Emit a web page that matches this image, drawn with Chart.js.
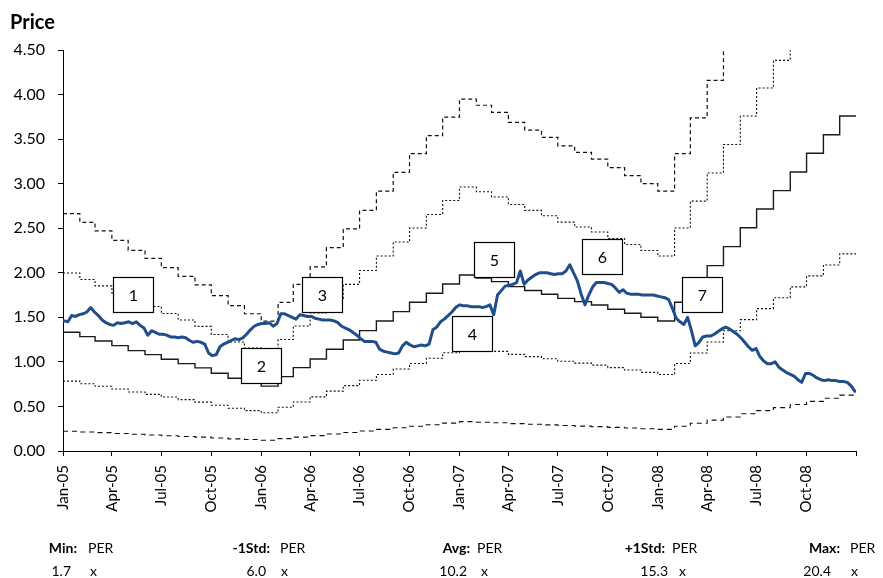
<!DOCTYPE html>
<html>
<head>
<meta charset="utf-8">
<script src="https://cdn.jsdelivr.net/npm/chart.js@4.4.1/dist/chart.umd.min.js"></script>
<style>
  html, body { margin: 0; padding: 0; background: #fff; }
  #wrap { position: relative; width: 883px; height: 578px; }
</style>
</head>
<body>
<div id="wrap"><canvas id="c" width="883" height="578"></canvas></div>
<script>
// ---- data ----
const axisStart = '2005-01-01';
const axisEnd = '2008-12-31';

const quarterLabels = ['Jan-05','Apr-05','Jul-05','Oct-05','Jan-06','Apr-06','Jul-06','Oct-06',
                       'Jan-07','Apr-07','Jul-07','Oct-07','Jan-08','Apr-08','Jul-08','Oct-08'];

// monthly EPS, Jan-05 .. Dec-08
const epsMonthly = [
  0.1306, 0.1258, 0.1211, 0.1159, 0.1104, 0.1060, 0.1009, 0.0961, 0.0914, 0.0855, 0.0800, 0.0755,
  0.0714, 0.0818, 0.0917, 0.1013, 0.1119, 0.1222, 0.1324, 0.1430, 0.1533, 0.1636, 0.1735, 0.1837,
  0.1936, 0.1902, 0.1863, 0.1808, 0.1765, 0.1725, 0.1679, 0.1643, 0.1606, 0.1559, 0.1515, 0.1471,
  0.1430, 0.1636, 0.1833, 0.2039, 0.2248, 0.2457, 0.2663, 0.2865, 0.3070, 0.3275, 0.3480, 0.3686
];

const perNames = ['Min:', '-1Std:', 'Avg:', '+1Std:', 'Max:'];
const perMultiples = [1.7, 6.0, 10.2, 15.3, 20.4];

// weekly closing price, first week starting 2005-01-03
const priceFirstWeek = '2005-01-03';
const priceWeekly = [
  1.46,1.45,1.52,1.51,1.53,1.54,1.56,1.61,1.56,1.52,
  1.47,1.44,1.42,1.41,1.44,1.43,1.44,1.45,1.43,1.45,
  1.41,1.38,1.30,1.35,1.33,1.31,1.31,1.30,1.28,1.28,
  1.27,1.28,1.27,1.24,1.22,1.23,1.22,1.20,1.10,1.07,
  1.08,1.17,1.20,1.22,1.24,1.26,1.25,1.27,1.31,1.36,
  1.40,1.42,1.43,1.43,1.44,1.40,1.43,1.54,1.54,1.52,
  1.50,1.48,1.53,1.52,1.51,1.51,1.49,1.48,1.47,1.47,
  1.47,1.46,1.44,1.40,1.38,1.36,1.33,1.30,1.26,1.23,
  1.23,1.23,1.22,1.14,1.12,1.11,1.10,1.09,1.10,1.18,
  1.22,1.19,1.17,1.18,1.19,1.18,1.20,1.36,1.39,1.45,
  1.48,1.52,1.56,1.61,1.64,1.63,1.63,1.62,1.62,1.62,
  1.61,1.62,1.64,1.53,1.75,1.80,1.85,1.86,1.87,1.89,
  2.02,1.87,1.92,1.95,1.98,2.00,2.00,2.00,1.99,1.98,
  1.99,1.99,2.02,2.09,2.00,1.91,1.76,1.64,1.75,1.84,
  1.89,1.89,1.89,1.88,1.87,1.83,1.78,1.81,1.77,1.76,
  1.76,1.76,1.75,1.75,1.75,1.75,1.74,1.73,1.72,1.70,
  1.60,1.49,1.45,1.42,1.50,1.35,1.18,1.22,1.28,1.29,
  1.29,1.31,1.34,1.37,1.39,1.37,1.34,1.31,1.27,1.22,
  1.17,1.13,1.15,1.06,1.01,0.98,0.98,1.00,0.94,0.91,
  0.88,0.86,0.84,0.80,0.77,0.87,0.87,0.85,0.82,0.80,
  0.79,0.80,0.79,0.79,0.78,0.78,0.77,0.73,0.67
];

// numbered callouts: label, anchor date, anchor price
const calloutLabels = ['1','2','3','4','5','6','7'];
const calloutDates  = ['2005-05-09','2005-12-31','2006-04-23','2007-01-24','2007-03-06','2007-09-20','2008-03-23'];
const calloutPrices = [1.756, 0.96, 1.756, 1.32, 2.145, 2.18, 1.756];

// ---- helpers ----
const DAY = 86400000;
const t0 = Date.parse(axisStart + 'T00:00:00Z');
const dayIndex = s => Math.round((Date.parse(s + 'T00:00:00Z') - t0) / DAY);
const lastDay = dayIndex(axisEnd);

const monthStartDays = epsMonthly.map((_, k) => Math.round((Date.UTC(2005, k, 1) - t0) / DAY));
const quarterDays = quarterLabels.map((_, q) => monthStartDays[q * 3]);

function bandPoints(mult) {
  const pts = epsMonthly.map((e, k) => ({ x: monthStartDays[k], y: e * mult }));
  pts.push({ x: lastDay, y: epsMonthly[epsMonthly.length - 1] * mult });
  return pts;
}

const firstWeekDay = dayIndex(priceFirstWeek);
const pricePoints = priceWeekly.map((v, i) => ({ x: firstWeekDay + 7 * i, y: v }));

const bandStyles = [
  { dash: [5, 4], width: 1.1, color: '#111' },   // Min
  { dash: [2, 2], width: 1.1, color: '#111' },   // -1Std
  { dash: [],     width: 1.4, color: '#1a1a1a' },// Avg
  { dash: [2, 2], width: 1.1, color: '#111' },   // +1Std
  { dash: [4, 3], width: 1.2, color: '#111' }    // Max
];

const datasets = [{
  label: 'Price',
  data: pricePoints,
  borderColor: '#1f4e8a',
  borderWidth: 3,
  pointRadius: 0,
  tension: 0,
  borderJoinStyle: 'round',
  borderCapStyle: 'round'
}];
perMultiples.forEach((m, i) => {
  datasets.push({
    label: perNames[i],
    data: bandPoints(m),
    stepped: true,
    borderColor: bandStyles[i].color,
    borderWidth: bandStyles[i].width,
    borderDash: bandStyles[i].dash,
    pointRadius: 0,
    tension: 0
  });
});

// ---- plugins ----
const calloutPlugin = {
  id: 'callouts',
  afterDatasetsDraw(chart) {
    const { ctx, scales: { x, y } } = chart;
    ctx.save();
    calloutLabels.forEach((lab, i) => {
      const cx = x.getPixelForValue(dayIndex(calloutDates[i]));
      const cy = y.getPixelForValue(calloutPrices[i]);
      const w = 40, h = 35;
      const l = Math.round(cx - w / 2) + 0.5, t = Math.round(cy - h / 2) + 0.5;
      ctx.fillStyle = '#fff';
      ctx.fillRect(l, t, w, h);
      ctx.strokeStyle = '#000';
      ctx.lineWidth = 1.2;
      ctx.strokeRect(l, t, w, h);
      ctx.fillStyle = '#000';
      ctx.font = '16px Lato';
      ctx.textAlign = 'center';
      ctx.textBaseline = 'middle';
      ctx.fillText(lab, l + w / 2, t + h / 2 + 1);
    });
    ctx.restore();
  }
};

const legendLayout = {
  labelRight: [77, 270, 470, 665, 840],
  perLeft:    [88, 280, 477, 672, 850],
  valueRight: [71, 266, 467, 668, 831],
  xLeft:      [90, 281, 481, 679, 851],
  row1: 548, row2: 571
};

const textPlugin = {
  id: 'texts',
  afterDraw(chart) {
    const ctx = chart.ctx;
    ctx.save();
    ctx.fillStyle = '#000';
    ctx.textBaseline = 'alphabetic';
    ctx.textAlign = 'left';
    ctx.font = 'bold 20px Lato';
    ctx.fillText('Price', 10, 29);

    ctx.textBaseline = 'middle';
    perNames.forEach((name, i) => {
      ctx.font = 'bold 14px Lato';
      ctx.textAlign = 'right';
      ctx.fillText(name, legendLayout.labelRight[i], legendLayout.row1);
      ctx.font = '14px Lato';
      ctx.textAlign = 'left';
      ctx.fillText('PER', legendLayout.perLeft[i], legendLayout.row1);
      ctx.textAlign = 'right';
      ctx.fillText(perMultiples[i].toFixed(1), legendLayout.valueRight[i], legendLayout.row2);
      ctx.textAlign = 'left';
      ctx.fillText('x', legendLayout.xLeft[i], legendLayout.row2);
    });
    ctx.restore();
  }
};

// ---- chart ----
Chart.defaults.font.family = 'Lato';
Chart.defaults.color = '#000';

new Chart(document.getElementById('c'), {
  type: 'line',
  data: { datasets },
  options: {
    responsive: false,
    animation: false,
    events: [],
    layout: { padding: { top: 50, right: 23, bottom: 0, left: 0 } },
    plugins: { legend: { display: false }, tooltip: { enabled: false } },
    scales: {
      x: {
        type: 'linear',
        min: 0,
        max: lastDay,
        afterBuildTicks: s => {
          s.ticks = quarterDays.map(v => ({ value: v })).concat([{ value: lastDay }]);
        },
        afterFit: s => { s.height = 127; },
        ticks: {
          autoSkip: false,
          minRotation: 90,
          maxRotation: 90,
          padding: 9,
          font: { size: 15 },
          color: '#000',
          callback: (v, i) => (i < quarterLabels.length ? quarterLabels[i] : '')
        },
        grid: { drawOnChartArea: false, drawTicks: true, tickLength: 5, color: '#000', lineWidth: 1 },
        border: { display: true, color: '#000', width: 1 }
      },
      y: {
        min: 0,
        max: 4.5,
        afterFit: s => { s.width = 63; },
        ticks: {
          stepSize: 0.5,
          padding: 13,
          font: { size: 16 },
          color: '#000',
          callback: v => Number(v).toFixed(2)
        },
        grid: { drawOnChartArea: false, drawTicks: true, tickLength: 5, color: '#000', lineWidth: 1 },
        border: { display: true, color: '#000', width: 1 }
      }
    }
  },
  plugins: [calloutPlugin, textPlugin]
});
</script>
</body>
</html>
